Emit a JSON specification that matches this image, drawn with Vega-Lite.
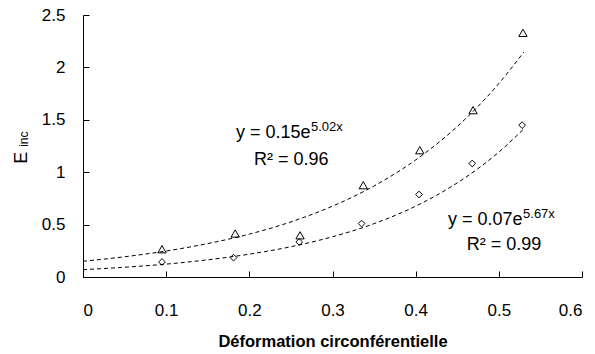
{
  "$schema": "https://vega.github.io/schema/vega-lite/v6.json",
  "width": 499,
  "height": 262,
  "autosize": {"type": "none"},
  "padding": {"left": 83, "top": 15, "right": 13, "bottom": 77},
  "background": "white",
  "config": {
    "view": {"stroke": null},
    "axis": {
      "grid": false,
      "domainColor": "black",
      "tickColor": "black",
      "labelColor": "black",
      "titleColor": "black",
      "labelFont": "Liberation Sans",
      "titleFont": "Liberation Sans",
      "labelFontSize": 17,
      "labelFontWeight": "normal"
    },
    "text": {"font": "Liberation Sans", "color": "black"}
  },
  "datasets": {
    "pts": [
      {"series": "T", "x": 0.095, "y": 0.265},
      {"series": "T", "x": 0.183, "y": 0.415},
      {"series": "T", "x": 0.261, "y": 0.398},
      {"series": "T", "x": 0.337, "y": 0.876},
      {"series": "T", "x": 0.405, "y": 1.21},
      {"series": "T", "x": 0.469, "y": 1.592},
      {"series": "T", "x": 0.529, "y": 2.33},
      {"series": "D", "x": 0.095, "y": 0.143},
      {"series": "D", "x": 0.181, "y": 0.185},
      {"series": "D", "x": 0.260, "y": 0.334},
      {"series": "D", "x": 0.335, "y": 0.51},
      {"series": "D", "x": 0.404, "y": 0.787},
      {"series": "D", "x": 0.468, "y": 1.083},
      {"series": "D", "x": 0.528, "y": 1.449}
    ],
    "trend": [
      {"series": "T", "x": 0, "y": 0.15},
      {"series": "T", "x": 0.05, "y": 0.193},
      {"series": "T", "x": 0.1, "y": 0.248},
      {"series": "T", "x": 0.15, "y": 0.319},
      {"series": "T", "x": 0.2, "y": 0.409},
      {"series": "T", "x": 0.25, "y": 0.526},
      {"series": "T", "x": 0.3, "y": 0.676},
      {"series": "T", "x": 0.35, "y": 0.869},
      {"series": "T", "x": 0.4, "y": 1.117},
      {"series": "T", "x": 0.45, "y": 1.436},
      {"series": "T", "x": 0.5, "y": 1.846},
      {"series": "T", "x": 0.53, "y": 2.146},
      {"series": "D", "x": 0, "y": 0.07},
      {"series": "D", "x": 0.05, "y": 0.093},
      {"series": "D", "x": 0.1, "y": 0.123},
      {"series": "D", "x": 0.15, "y": 0.164},
      {"series": "D", "x": 0.2, "y": 0.218},
      {"series": "D", "x": 0.25, "y": 0.289},
      {"series": "D", "x": 0.3, "y": 0.384},
      {"series": "D", "x": 0.35, "y": 0.509},
      {"series": "D", "x": 0.4, "y": 0.676},
      {"series": "D", "x": 0.45, "y": 0.898},
      {"series": "D", "x": 0.5, "y": 1.192},
      {"series": "D", "x": 0.53, "y": 1.413}
    ],
    "notes": [
      {"label": "y = 0.15e", "x": 0.1839, "y": 1.372, "size": 18},
      {"label": "5.02x", "x": 0.2741, "y": 1.43, "size": 13},
      {"label": "R² = 0.96", "x": 0.2055, "y": 1.114, "size": 18},
      {"label": "y = 0.07e", "x": 0.4389, "y": 0.542, "size": 18},
      {"label": "5.67x", "x": 0.5291, "y": 0.599, "size": 13},
      {"label": "R² = 0.99", "x": 0.4615, "y": 0.303, "size": 18}
    ],
    "ytitle": [
      {"label": "E", "x": -0.0739, "y": 1.138, "size": 18},
      {"label": "inc", "x": -0.0709, "y": 1.315, "size": 12}
    ]
  },
  "encoding": {
    "x": {
      "field": "x", "type": "quantitative",
      "scale": {"domain": [0, 0.6], "nice": false, "zero": false},
      "axis": {
        "values": [0, 0.1, 0.2, 0.3, 0.4, 0.5, 0.6],
        "format": ".1~f",
        "tickSize": -6,
        "labelPadding": 31,
        "title": "Déformation circonférentielle",
        "titleFontWeight": "bold",
        "titleFontSize": 16.5,
        "titlePadding": 15
      }
    },
    "y": {
      "field": "y", "type": "quantitative",
      "scale": {"domain": [0, 2.5], "nice": false},
      "axis": {
        "values": [0, 0.5, 1, 1.5, 2, 2.5],
        "format": ".1~f",
        "tickSize": -6,
        "labelPadding": 24,
        "title": null
      }
    }
  },
  "layer": [
    {
      "data": {"name": "trend"},
      "mark": {"type": "line", "color": "black", "strokeWidth": 1, "strokeDash": [4, 3], "interpolate": "monotone"},
      "encoding": {"detail": {"field": "series"}}
    },
    {
      "data": {"name": "pts"},
      "mark": {"type": "point", "filled": false, "color": "black", "strokeWidth": 1, "opacity": 1},
      "encoding": {
        "shape": {"field": "series", "type": "nominal", "scale": {"domain": ["T", "D"], "range": ["triangle-up", "diamond"]}, "legend": null},
        "size": {"field": "series", "type": "nominal", "scale": {"domain": ["T", "D"], "range": [70, 45]}, "legend": null}
      }
    },
    {
      "data": {"name": "notes"},
      "mark": {"type": "text", "baseline": "middle", "align": "left"},
      "encoding": {
        "text": {"field": "label"},
        "size": {"field": "size", "type": "quantitative", "scale": null}
      }
    },
    {
      "data": {"name": "ytitle"},
      "mark": {"type": "text", "baseline": "middle", "align": "center", "angle": 270},
      "encoding": {
        "text": {"field": "label"},
        "size": {"field": "size", "type": "quantitative", "scale": null}
      }
    }
  ]
}
